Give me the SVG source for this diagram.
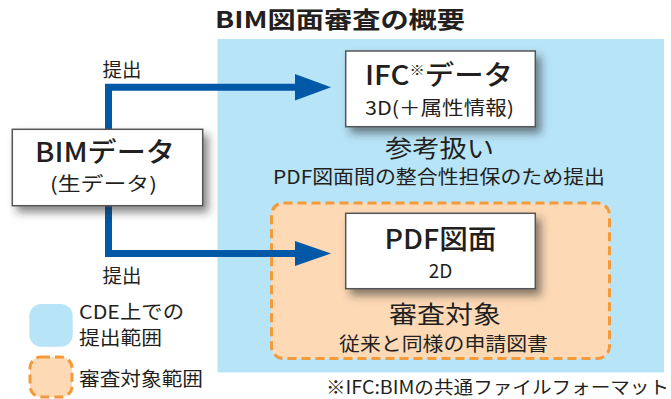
<svg xmlns="http://www.w3.org/2000/svg" width="671" height="399" viewBox="0 0 671 399">
<defs>
<style>
text{font-family:"Noto Sans CJK JP","Noto Sans",sans-serif;fill:#231f20;}
.box{fill:#fff;stroke:#555;stroke-width:1.5;filter:url(#sh);}
.arrow{fill:none;stroke:#0058a6;stroke-width:7;}
.head{fill:#0058a6;}
.dash{fill:#fdd9b6;stroke:#f39a3a;stroke-width:3;stroke-dasharray:9 5;}
.big{font-size:27px;font-weight:500;}
.mid{font-size:24px;}
.sm{font-size:19px;}
</style>
<filter id="sh" x="-20%" y="-20%" width="150%" height="160%">
<feDropShadow dx="5" dy="6" stdDeviation="4" flood-color="#2a2a2a" flood-opacity="0.55"/>
</filter>
</defs>
<text x="340" y="28" font-size="23" font-weight="600" text-anchor="middle" textLength="250" lengthAdjust="spacingAndGlyphs">BIM図面審査の概要</text>
<rect id="cde" x="217.5" y="39" width="446.5" height="333.5" fill="#b8e4f8"/>
<g id="review-area">
<rect class="dash" x="271.5" y="203" width="338" height="155.5" rx="12"/>
</g>
<g id="connectors">
<polyline class="arrow" points="108.5,130 108.5,87.3 297,87.3"/>
<polygon class="head" points="295,74 331,87.3 295,100.5"/>
<polyline class="arrow" points="108.5,205 108.5,253.5 297,253.5"/>
<polygon class="head" points="295,241 331,253.5 295,266"/>
<text x="122" y="77" class="sm" text-anchor="middle" textLength="39" lengthAdjust="spacingAndGlyphs">提出</text>
<text x="122" y="283" class="sm" text-anchor="middle" textLength="39" lengthAdjust="spacingAndGlyphs">提出</text>
</g>
<g id="ifc">
<rect class="box" x="345.7" y="51" width="189.6" height="75.7"/>
<text x="365" y="85" class="big" textLength="148" lengthAdjust="spacingAndGlyphs">IFC<tspan font-size="14" dy="-10">※</tspan><tspan dy="10">データ</tspan></text>
<text x="365" y="115" class="sm" font-size="18" textLength="149" lengthAdjust="spacingAndGlyphs">3D(＋属性情報)</text>
</g>
<g id="bim">
<rect class="box" x="12.3" y="129.3" width="190.4" height="76.4"/>
<text x="35" y="162" class="big" font-size="27" textLength="140" lengthAdjust="spacingAndGlyphs">BIMデータ</text>
<text x="50" y="191" class="sm" font-size="17.5" textLength="107" lengthAdjust="spacingAndGlyphs">(生データ)</text>
</g>
<g id="ref-note">
<text x="385" y="157" class="mid" textLength="109" lengthAdjust="spacingAndGlyphs">参考扱い</text>
<text x="273" y="184" class="sm" font-size="18" textLength="332" lengthAdjust="spacingAndGlyphs">PDF図面間の整合性担保のため提出</text>
</g>
<g id="pdf">
<rect class="box" x="345.7" y="213.3" width="189.6" height="75.4"/>
<text x="440.5" y="249" class="big" text-anchor="middle" textLength="112" lengthAdjust="spacingAndGlyphs">PDF図面</text>
<text x="440.5" y="278" class="sm" font-size="19" text-anchor="middle">2D</text>
</g>
<g id="review-note">
<text x="389" y="323" class="mid" textLength="112" lengthAdjust="spacingAndGlyphs">審査対象</text>
<text x="339" y="351" class="sm" font-size="18" textLength="209" lengthAdjust="spacingAndGlyphs">従来と同様の申請図書</text>
</g>
<g id="legend-cde">
<rect x="29.3" y="304" width="43.4" height="42.7" rx="12" fill="#b8e4f8"/>
<text x="79" y="319" class="sm" textLength="105" lengthAdjust="spacingAndGlyphs">CDE上での</text>
<text x="79" y="345" class="sm" textLength="83" lengthAdjust="spacingAndGlyphs">提出範囲</text>
</g>
<g id="legend-review">
<rect class="dash" x="30" y="357" width="42" height="40" rx="11"/>
<text x="79" y="386" class="sm" textLength="124" lengthAdjust="spacingAndGlyphs">審査対象範囲</text>
</g>
<text x="326" y="394" font-size="18" textLength="343" lengthAdjust="spacingAndGlyphs">※IFC:BIMの共通ファイルフォーマット</text>
</svg>
